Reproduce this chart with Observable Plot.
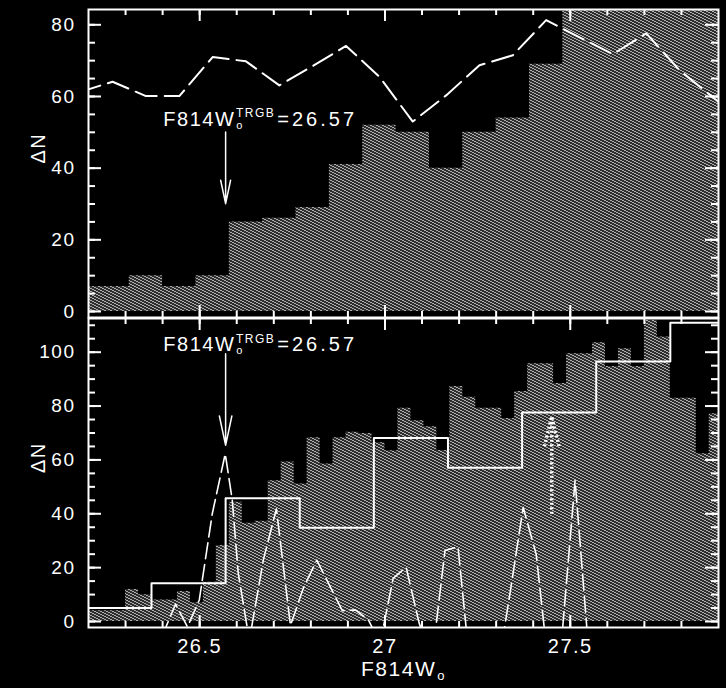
<!DOCTYPE html>
<html><head><meta charset="utf-8">
<script src="https://cdn.jsdelivr.net/npm/d3@7"></script>
<script src="https://cdn.jsdelivr.net/npm/@observablehq/plot@0.6"></script>
<style>
html,body{margin:0;padding:0;background:#000;}
#chart{width:726px;height:688px;background:#000;overflow:hidden;}
#chart svg{display:block;}
svg text{letter-spacing:1.5px;}
</style></head><body><div id="chart"></div>
<script>
// ---------- data ----------
// top panel: coarse histogram (bin edges + counts) and dashed curve
const topEdges = [26.13,26.22,26.31,26.40,26.49,26.58,26.67,26.76,26.85,26.94,27.03,27.12,27.21,27.30,27.39,27.48,27.57,27.66,27.75,27.84,27.93];
const topCounts = [7,7,10,7,10,25,26,29,41,52,50,40,50,54,69,92,95,100,98,95];
const topDashMag = [26.175,26.265,26.355,26.445,26.535,26.625,26.715,26.805,26.895,26.985,27.075,27.165,27.255,27.345,27.435,27.525,27.615,27.705,27.795,27.885,27.975];
const topDashN = [61.2,64.1,60.1,60.1,71.0,69.8,63.1,68.5,74.1,65.5,53.0,60.3,68.7,71.5,81.3,76.5,71.8,77.6,67.3,59.8,52.0];

// bottom panel: fine histogram
const lowEdges = [26.195,26.230,26.265,26.300,26.335,26.370,26.405,26.440,26.475,26.510,26.545,26.580,26.615,26.650,26.685,26.720,26.755,26.790,26.825,26.860,26.895,26.930,26.965,27.000,27.035,27.070,27.105,27.140,27.175,27.210,27.245,27.280,27.315,27.350,27.385,27.420,27.455,27.490,27.525,27.560,27.595,27.630,27.665,27.700,27.735,27.770,27.805,27.840,27.875,27.910];
const lowCounts = [4,4,4,11.9,9.9,8,8,11.1,7,14.6,28.2,44.3,36.5,37.2,52.3,59.2,51.1,68.2,58.5,68.2,70.3,69.8,66.4,63.4,79.2,74.5,72.3,63.5,87.3,83.3,79.2,79.2,75.4,85.4,95.7,95.7,88.4,99.4,99.4,103.5,94.7,101.3,94.7,111.8,105.6,82.9,82.9,62.3,77.1];
// bottom panel: coarse step histogram
const stepEdges = [26.17,26.37,26.57,26.77,26.97,27.17,27.37,27.57,27.77,27.97];
const stepCounts = [5,14.2,45.8,34.8,68.1,57.1,77.6,96.5,110.9];
// bottom panel: dashed edge-detector curve
const lowDashMag = [26.178,26.364,26.400,26.435,26.467,26.499,26.534,26.569,26.588,26.604,26.634,26.672,26.707,26.745,26.780,26.816,26.885,26.920,26.955,26.987,27.022,27.057,27.092,27.127,27.162,27.197,27.232,27.267,27.302,27.338,27.373,27.408,27.443,27.478,27.513,27.548,27.583,27.904];
const lowDashN = [-20,-20,-5,6.5,-2,8,40,62.3,45,18,-7,23,41.8,-1.5,12.5,22.8,4,4.3,0.6,-8,16,20.2,-0.5,-14,26.4,27.8,-20,-30,-20,11,42.4,25,-19,-4.8,52.4,-8,-20,-20];

// annotations
const trgbMag = 26.57;
const trgbArrowTop = [{mag: trgbMag, from: 50.1, to: 30.1}];
const trgbArrowLow = [{mag: trgbMag, from: 99.4, to: 65.4}];
const secondArrow = [{mag: 27.45, from: 40, to: 76}];
const labelTop = [{mag: 26.402, n: 51.9, text: "F814W|o|TRGB|=26.57"}];
const labelLow = [{mag: 26.402, n: 100.4, text: "F814W|o|TRGB|=26.57"}];
const yTitle = "ΔN";
const xTitle = "F814W|o";

// ticks
const xMajor = [26.5, 27, 27.5];
const xMinor = [26.3,26.4,26.5,26.6,26.7,26.8,26.9,27.0,27.1,27.2,27.3,27.4,27.5,27.6,27.7,27.8];
const yTopMajor = [0,20,40,60,80];
const yTopMinor = [0,5,10,15,20,25,30,35,40,45,50,55,60,65,70,75,80];
const yLowMajor = [0,20,40,60,80,100];
const yLowMinor = [0,5,10,15,20,25,30,35,40,45,50,55,60,65,70,75,80,85,90,95,100,105,110];

// ---------- helpers ----------
const W = 726, mL = 88, mR = 8;
const FW = W - mL - mR;
const font = "'Liberation Sans', Arial, sans-serif";
const xDomain = [26.2, 27.9];

function stepData(edges, counts) {
  return edges.map((e, i) => ({m: e, n: counts[Math.min(i, counts.length - 1)]}));
}
function frameTicks(yMajor, yMinor, fh) {
  const c = {stroke: "white", strokeWidth: 2};
  return [
    Plot.tickY(yMinor, {y: d => d, insetRight: FW - 7, ...c}),
    Plot.tickY(yMajor, {y: d => d, insetRight: FW - 13, ...c}),
    Plot.tickY(yMinor, {y: d => d, insetLeft: FW - 7, ...c}),
    Plot.tickY(yMajor, {y: d => d, insetLeft: FW - 13, ...c}),
    Plot.tickX(xMinor, {x: d => d, insetBottom: fh - 6, ...c}),
    Plot.tickX(xMajor, {x: d => d, insetBottom: fh - 12, ...c}),
    Plot.tickX(xMinor, {x: d => d, insetTop: fh - 6, ...c}),
    Plot.tickX(xMajor, {x: d => d, insetTop: fh - 12, ...c}),
    Plot.frame({stroke: "white", strokeWidth: 2})
  ];
}
function addHatch(svg, id) {
  const ns = "http://www.w3.org/2000/svg";
  const defs = document.createElementNS(ns, "defs");
  const px = [[0,0],[1,0],[2,1],[3,1],[4,2],[5,2]]
    .map(([x, y]) => `<rect x="${x}" y="${y}" width="1" height="1" fill="#ababab"/>`).join("");
  defs.innerHTML = `<pattern id="${id}" patternUnits="userSpaceOnUse" x="0" y="0" width="6" height="3" shape-rendering="crispEdges"><rect width="6" height="3" fill="#2e2e2e"/>${px}</pattern>`;
  svg.insertBefore(defs, svg.firstChild);
}
function richify(svg) {
  d3.select(svg).selectAll("text").each(function() {
    const s = this.textContent;
    const p = s.split("|");
    if (p.length === 4) {
      this.textContent = "";
      const t = d3.select(this);
      t.append("tspan").text(p[0]);
      t.append("tspan").attr("font-size", 11).attr("dy", 3).attr("dx", 1).text(p[1]);
      t.append("tspan").attr("font-size", 12).attr("dx", -8).attr("dy", -11.5).text(p[2]);
      t.append("tspan").attr("dy", 8.5).attr("dx", 2).style("letter-spacing", "3px").text(p[3]);
    } else if (p.length === 2) {
      this.textContent = "";
      const t = d3.select(this);
      t.append("tspan").text(p[0]);
      t.append("tspan").attr("font-size", 13).attr("dy", 4).attr("dx", 1).text(p[1]);
    }
  });
}

// ---------- top panel ----------
const topH = 318, topMT = 9, topMB = 1;
const topFH = topH - topMT - topMB;
const topPlot = Plot.plot({
  width: W, height: topH,
  marginLeft: mL, marginRight: mR, marginTop: topMT, marginBottom: topMB,
  style: {background: "black", color: "white", overflow: "visible", fontFamily: font, fontSize: "19px"},
  x: {domain: xDomain, axis: null},
  y: {domain: [-1.674, 84.27], axis: null},
  marks: [
    Plot.areaY(stepData(topEdges, topCounts), {x: "m", y: "n", curve: "step-after", fill: "url(#hatchTop)", clip: true}),
    Plot.line(topDashMag.map((m, i) => ({m, n: topDashN[i]})), {x: "m", y: "n", stroke: "white", strokeWidth: 2, strokeDasharray: "22,8", clip: true}),
    Plot.arrow(trgbArrowTop, {x1: "mag", x2: "mag", y1: "from", y2: "to", stroke: "white", strokeWidth: 1.5, headAngle: 24, headLength: 30}),
    Plot.text(labelTop, {x: "mag", y: "n", text: "text", textAnchor: "start", lineAnchor: "bottom", fill: "white", fontSize: 20}),
    ...frameTicks(yTopMajor, yTopMinor, topFH),
    Plot.text(yTopMajor, {y: d => d, text: d => String(d), frameAnchor: "left", dx: -13, textAnchor: "end", fill: "white", fontSize: 19}),
    Plot.text([yTitle], {text: d => d, frameAnchor: "left", dx: -50, rotate: -90, fill: "white", fontSize: 20})
  ]
});
addHatch(topPlot, "hatchTop");
richify(topPlot);

// ---------- bottom panel ----------
const lowH = 370, lowMT = 0, lowMB = 61;
const lowFH = lowH - lowMT - lowMB;
const lowPlot = Plot.plot({
  width: W, height: lowH,
  marginLeft: mL, marginRight: mR, marginTop: lowMT, marginBottom: lowMB,
  style: {background: "black", color: "white", overflow: "visible", fontFamily: font, fontSize: "19px"},
  x: {domain: xDomain, axis: null},
  y: {domain: [-2.228, 112.51], axis: null},
  marks: [
    Plot.areaY(stepData(lowEdges, lowCounts), {x: "m", y: "n", curve: "step-after", fill: "url(#hatchLow)", clip: true}),
    Plot.line(stepData(stepEdges, stepCounts), {x: "m", y: "n", curve: "step-after", stroke: "white", strokeWidth: 2, clip: true}),
    Plot.line(lowDashMag.map((m, i) => ({m, n: lowDashN[i]})), {x: "m", y: "n", stroke: "white", strokeWidth: 1.6, strokeDasharray: "16,6", clip: true}),
    Plot.arrow(trgbArrowLow, {x1: "mag", x2: "mag", y1: "from", y2: "to", stroke: "white", strokeWidth: 1.5, headAngle: 24, headLength: 30}),
    Plot.arrow(secondArrow, {x1: "mag", x2: "mag", y1: "from", y2: "to", stroke: "white", strokeWidth: 3.5, strokeDasharray: "2,2.5", strokeLinecap: "butt", strokeLinejoin: "miter", headAngle: 28, headLength: 13}),
    Plot.text(labelLow, {x: "mag", y: "n", text: "text", textAnchor: "start", lineAnchor: "bottom", fill: "white", fontSize: 20}),
    ...frameTicks(yLowMajor, yLowMinor, lowFH),
    Plot.text(yLowMajor, {y: d => d, text: d => String(d), frameAnchor: "left", dx: -13, textAnchor: "end", fill: "white", fontSize: 19}),
    Plot.text(xMajor, {x: d => d, text: d => String(d), frameAnchor: "bottom", dy: 11, lineAnchor: "top", fill: "white", fontSize: 20}),
    Plot.text([yTitle], {text: d => d, frameAnchor: "left", dx: -50, rotate: -90, fill: "white", fontSize: 20}),
    Plot.text([xTitle], {text: d => d, frameAnchor: "bottom", dy: 48, lineAnchor: "bottom", fill: "white", fontSize: 21})
  ]
});
addHatch(lowPlot, "hatchLow");
richify(lowPlot);

const chart = document.getElementById("chart");
chart.appendChild(topPlot);
chart.appendChild(lowPlot);
</script></body></html>
